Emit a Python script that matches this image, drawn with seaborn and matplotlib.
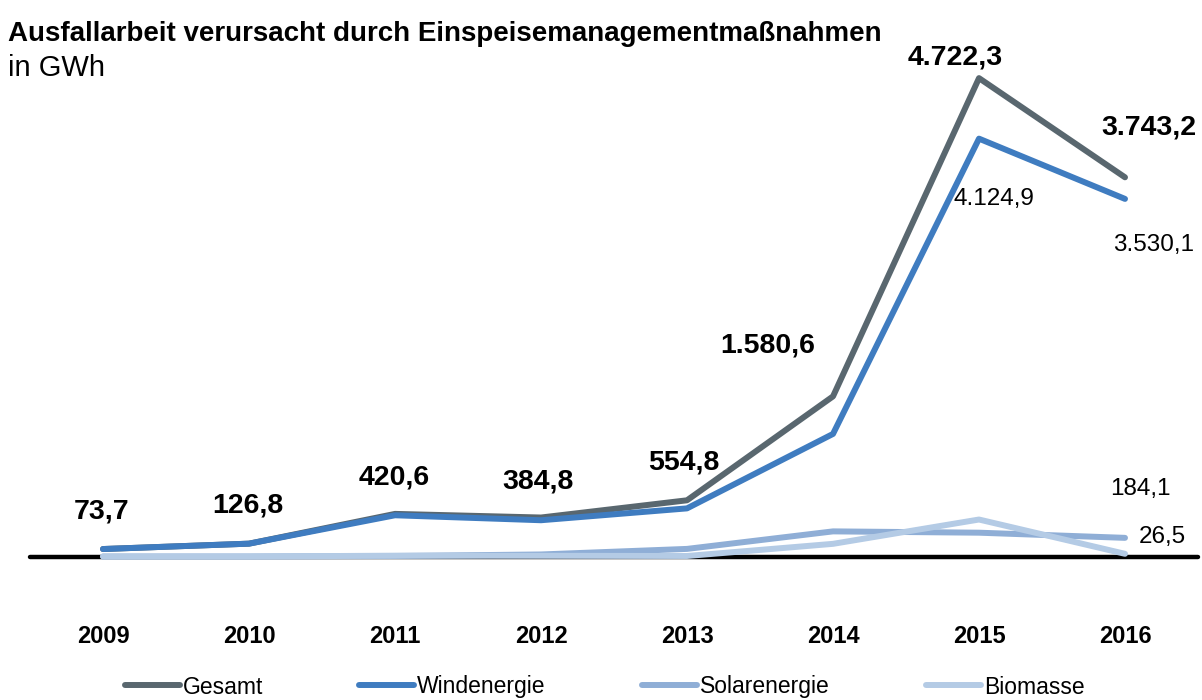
import matplotlib
matplotlib.use("Agg")
import matplotlib.pyplot as plt
from matplotlib.lines import Line2D
import seaborn as sns
import pandas as pd

# Curtailed energy from feed-in management measures, GWh
years = [2009, 2010, 2011, 2012, 2013, 2014, 2015, 2016]
gesamt = [73.7, 126.8, 420.6, 384.8, 554.8, 1580.6, 4722.3, 3743.2]
wind = [73.7, 126.8, 407.0, 358.0, 475.0, 1210.0, 4124.9, 3530.1]
solar = [0.0, 0.0, 5.0, 20.0, 75.0, 248.0, 235.0, 184.1]
biomasse = [0.0, 0.0, 8.0, 7.0, 5.0, 125.0, 365.0, 26.5]

series_names = ["Gesamt", "Windenergie", "Solarenergie", "Biomasse"]
colors = ["#59676f", "#3f7cc0", "#8faed6", "#b4cbe5"]

df = pd.concat([
    pd.DataFrame({"Jahr": years, "GWh": vals, "Reihe": name})
    for name, vals in zip(series_names, [gesamt, wind, solar, biomasse])
], ignore_index=True)

sns.set_theme(style="white")
plt.rcParams["font.family"] = ["Liberation Sans", "DejaVu Sans"]
plt.rcParams["text.color"] = "black"
plt.rcParams["xtick.color"] = "black"
plt.rcParams["axes.labelcolor"] = "black"

W, H = 1202, 700
fig = plt.figure(figsize=(W / 100, H / 100), dpi=100)
ax_left, ax_right, ax_bottom, ax_top = 30, 1198, 556.5, 50
ax = fig.add_axes([ax_left / W, 1 - ax_bottom / H,
                   (ax_right - ax_left) / W, (ax_bottom - ax_top) / H])

sns.lineplot(data=df, x="Jahr", y="GWh", hue="Reihe", hue_order=series_names,
             palette=dict(zip(series_names, colors)), linewidth=4.3,
             errorbar=None, legend=False, ax=ax)

for ln in list(ax.get_lines()):
    ln.set_solid_capstyle("round")
    ln.set_clip_on(False)
    ln.set_zorder(3)

ax.axhline(0, color="black", linewidth=3.2, zorder=1, clip_on=False)

ax.set_xlim(2008.5, 2016.5)
ax.set_ylim(0, 5000)
ax.set_yticks([])
ax.set_xticks(years)
ax.set_xticklabels([str(y) for y in years], fontsize=17, fontweight="bold")
ax.tick_params(axis="x", length=0, pad=49, colors="black")
ax.set_xlabel("")
ax.set_ylabel("")
for s in ax.spines.values():
    s.set_visible(False)


def fmt(v):
    s = f"{v:,.1f}"
    return s.replace(",", "X").replace(".", ",").replace("X", ".")


def label(x, v, dx, dy, size, weight):
    ax.annotate(fmt(v), xy=(x, v), xytext=(dx * 0.72, dy * 0.72),
                textcoords="offset points", ha="center", va="center",
                fontsize=size, fontweight=weight, color="black",
                annotation_clip=False)


# total values, placed above the dark line
gesamt_offsets = [(-1, 38), (-1, 38), (-1, 36), (-3, 36), (-3, 38),
                  (-65, 51), (-24, 21), (24, 50)]
for yr, v, (dx, dy) in zip(years, gesamt, gesamt_offsets):
    label(yr, v, dx, dy, 20.5, "bold")

label(2015, wind[6], 15, -60, 17.5, "normal")
label(2016, wind[7], 29, -46, 17.5, "normal")
label(2016, solar[7], 15, 49, 17.5, "normal")
label(2016, biomasse[7], 37, 17, 17.5, "normal")

fig.text(8 / W, 1 - 41 / H, "Ausfallarbeit verursacht durch Einspeisemanagementmaßnahmen",
         fontsize=20, fontweight="bold", va="baseline", ha="left")
fig.text(8 / W, 1 - 76 / H, "in GWh", fontsize=21, va="baseline", ha="left")

handles = [Line2D([], [], color=c, linewidth=4.3, solid_capstyle="round")
           for c in colors]
fig.legend(handles, series_names, loc="center",
           bbox_to_anchor=(604.5 / W, 1 - 687 / H),
           ncol=4, frameon=False, fontsize=16.5, handlelength=2.4,
           handletextpad=0.13, columnspacing=4.2, borderpad=0)

fig.savefig("out.png", dpi=100)
